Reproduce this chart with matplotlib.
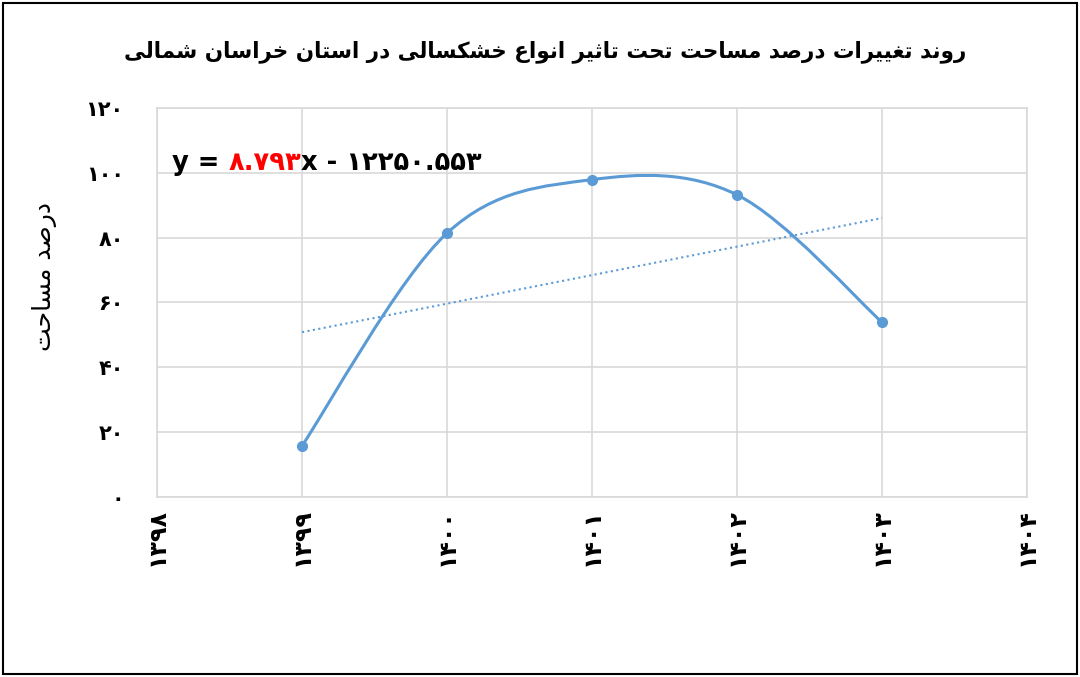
import matplotlib.pyplot as plt
from matplotlib.path import Path
from matplotlib.patches import PathPatch, Rectangle
import numpy as np

# data
years = [1399, 1400, 1401, 1402, 1403]
area_pct = [15.8, 81.4, 97.9, 93.2, 53.9]
x_ticks = [1398, 1399, 1400, 1401, 1402, 1403, 1404]
y_ticks = [0, 20, 40, 60, 80, 100, 120]
title_fa = 'روند تغییرات درصد مساحت تحت تاثیر انواع خشکسالی در استان خراسان شمالی'
ylabel_fa = 'درصد مساحت'
eq_parts = ['y = ', '8.793', 'x - 12250.553']

blue = '#5B9BD5'
grid_c = '#D9D9D9'

# (isolated, final, initial, medial) presentation forms; 2-tuple = right-joining only
forms = {
    'ا': ('\uFE8D', '\uFE8E'), 'د': ('\uFEA9', '\uFEAA'), 'ر': ('\uFEAD', '\uFEAE'),
    'و': ('\uFEED', '\uFEEE'),
    'ت': ('\uFE95', '\uFE96', '\uFE97', '\uFE98'), 'ث': ('\uFE99', '\uFE9A', '\uFE9B', '\uFE9C'),
    'ح': ('\uFEA1', '\uFEA2', '\uFEA3', '\uFEA4'), 'خ': ('\uFEA5', '\uFEA6', '\uFEA7', '\uFEA8'),
    'س': ('\uFEB1', '\uFEB2', '\uFEB3', '\uFEB4'), 'ش': ('\uFEB5', '\uFEB6', '\uFEB7', '\uFEB8'),
    'ص': ('\uFEB9', '\uFEBA', '\uFEBB', '\uFEBC'), 'ع': ('\uFEC9', '\uFECA', '\uFECB', '\uFECC'),
    'غ': ('\uFECD', '\uFECE', '\uFECF', '\uFED0'), 'ل': ('\uFEDD', '\uFEDE', '\uFEDF', '\uFEE0'),
    'م': ('\uFEE1', '\uFEE2', '\uFEE3', '\uFEE4'), 'ن': ('\uFEE5', '\uFEE6', '\uFEE7', '\uFEE8'),
    'ک': ('\uFB8E', '\uFB8F', '\uFB90', '\uFB91'), 'ی': ('\uFBFC', '\uFBFD', '\uFBFE', '\uFBFF'),
}


def shape_fa(s):
    out = []
    for i, ch in enumerate(s):
        if ch not in forms:
            out.append(ch)
            continue
        prev = s[i - 1] if i > 0 else ''
        nxt = s[i + 1] if i < len(s) - 1 else ''
        join_prev = prev in forms and len(forms[prev]) == 4
        join_next = len(forms[ch]) == 4 and nxt in forms
        f = forms[ch]
        if join_prev and join_next:
            out.append(f[3])
        elif join_prev:
            out.append(f[1])
        elif join_next:
            out.append(f[2])
        else:
            out.append(f[0])
    return ''.join(out)[::-1]


fa_digits = str.maketrans('0123456789', '۰۱۲۳۴۵۶۷۸۹')


def fa_num(v):
    return str(v).translate(fa_digits)


def smooth_path(xs, ys):
    pts = np.column_stack([xs, ys]).astype(float)
    n = len(pts)
    verts = [pts[0]]
    codes = [Path.MOVETO]
    for i in range(n - 1):
        p0 = pts[max(i - 1, 0)]
        p1 = pts[i]
        p2 = pts[i + 1]
        p3 = pts[min(i + 2, n - 1)]
        verts += [p1 + (p2 - p0) / 6, p2 - (p3 - p1) / 6, p2]
        codes += [Path.CURVE4] * 3
    return Path(verts, codes)


plt.rcParams['font.family'] = ['DejaVu Sans']

fig = plt.figure(figsize=(10.8, 6.77), dpi=100)
ax = fig.add_axes([0.1454, 0.2659, 0.8056, 0.5746])

# smoothed series line + markers
ax.add_patch(PathPatch(smooth_path(years, area_pct), facecolor='none',
                       edgecolor=blue, lw=2.2, zorder=3, capstyle='round'))
ax.plot(years, area_pct, 'o', color=blue, markersize=7, zorder=4)

# linear trendline
k, b = np.polyfit(years, area_pct, 1)
tx = np.array([years[0], years[-1]])
ax.plot(tx, k * tx + b, ':', color=blue, lw=1.5, zorder=2)

ax.set_xlim(x_ticks[0], x_ticks[-1])
ax.set_ylim(y_ticks[0], y_ticks[-1])
ax.set_xticks(x_ticks)
ax.set_yticks(y_ticks)
ax.set_xticklabels([fa_num(t) for t in x_ticks], rotation=90, fontsize=17,
                   fontweight='bold', va='top')
ax.set_yticklabels([fa_num(t) for t in y_ticks], fontsize=15, fontweight='bold')
ax.tick_params(axis='both', length=0)
ax.tick_params(axis='y', pad=24)
ax.tick_params(axis='x', pad=8)
ax.grid(True, color=grid_c, lw=1.2)
ax.set_axisbelow(True)
for sp in ax.spines.values():
    sp.set_color(grid_c)
    sp.set_linewidth(1.2)

fig.text(45 / 1080, 1 - 277 / 677, shape_fa(ylabel_fa), rotation=90,
         ha='center', va='center', fontsize=18)

fig.text(0.505, 0.924, shape_fa(title_fa), ha='center', va='center',
         fontsize=15.5, fontweight='bold')

# trendline equation, coefficient in red
t1 = fig.text(172 / 1080, 1 - 170 / 677, eq_parts[0], fontsize=18.5,
              fontweight='bold', va='baseline')
t2 = ax.annotate(fa_num(eq_parts[1]), xycoords=t1, xy=(1, 0), va='bottom',
                 fontsize=18.5, fontweight='bold', color='red')
ax.annotate(eq_parts[2].translate(fa_digits), xycoords=t2, xy=(1, 0), va='bottom',
            fontsize=18.5, fontweight='bold', color='black')

fig.patches.append(Rectangle((0.003, 0.004), 0.994, 0.992, transform=fig.transFigure,
                             fill=False, edgecolor='black', lw=1.5))

fig.savefig('out.png', dpi=100)
